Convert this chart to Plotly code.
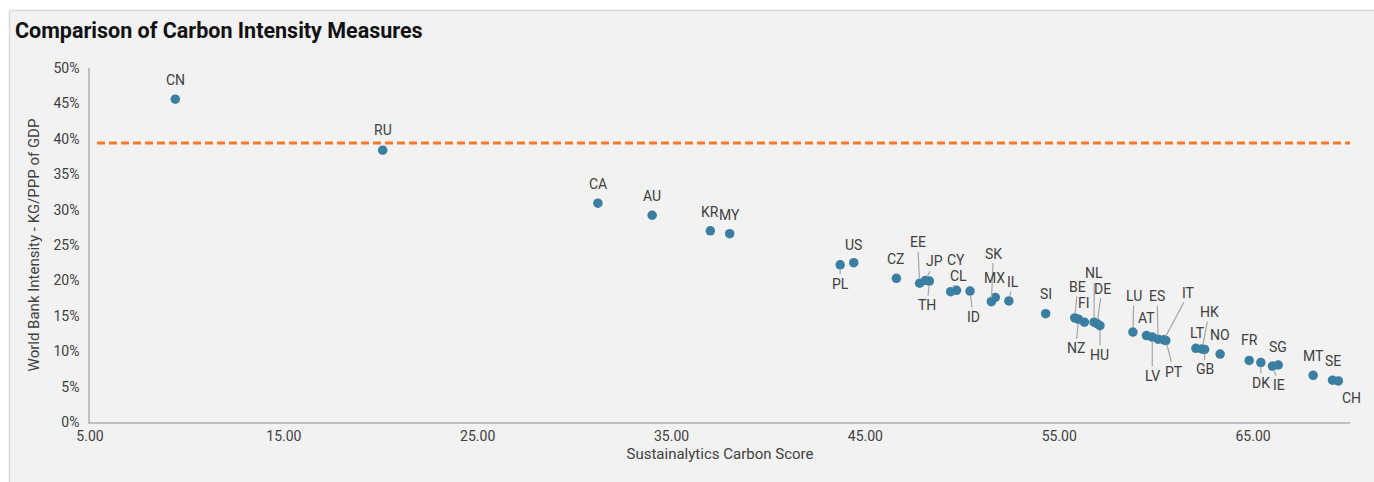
import plotly.graph_objects as go

# ---- data ----
countries = ["CN", "RU", "CA", "AU", "KR", "MY", "PL", "US", "CZ", "EE", "JP", "TH",
             "CL", "CY", "ID", "SK", "MX", "IL", "SI", "BE", "NZ", "FI", "NL", "DE",
             "HU", "LU", "AT", "LV", "ES", "IT", "PT", "LT", "HK", "GB", "NO", "FR",
             "DK", "IE", "SG", "MT", "SE", "CH"]
carbon_score = [9.4, 20.1, 31.2, 34.0, 37.0, 38.0, 43.7, 44.4, 46.6, 47.8, 48.1, 48.3,
                49.4, 49.7, 50.4, 51.5, 51.7, 52.4, 54.3, 55.8, 56.0, 56.3, 56.8, 56.95,
                57.1, 58.8, 59.5, 59.8, 60.1, 60.4, 60.5, 62.05, 62.37, 62.5, 63.3, 64.8,
                65.4, 66.0, 66.3, 68.1, 69.1, 69.4]
wb_intensity_pct = [45.6, 38.4, 30.9, 29.2, 27.0, 26.6, 22.2, 22.5, 20.3, 19.6, 20.0, 19.9,
                    18.4, 18.6, 18.5, 17.0, 17.6, 17.1, 15.3, 14.7, 14.5, 14.1, 14.1, 13.9,
                    13.6, 12.7, 12.2, 12.0, 11.7, 11.6, 11.5, 10.4, 10.3, 10.25, 9.6, 8.7,
                    8.4, 7.9, 8.05, 6.6, 5.9, 5.8]
threshold_pct = 39.4
threshold_x = [5.36, 70.1]
x_ticks = [5, 15, 25, 35, 45, 55, 65]

# ---- label placement (screen pixel offsets of label centre from point) ----
label_offset = {
    "CN": (0, -19), "RU": (0, -20), "CA": (0, -19), "AU": (0, -19), "KR": (0, -19),
    "MY": (0, -19), "PL": (0, 19), "US": (0, -18), "CZ": (0, -19), "EE": (-2, -41),
    "JP": (9, -19), "TH": (-2, 24), "CL": (8, -16), "CY": (0, -30), "ID": (3, 26),
    "SK": (2, -48), "MX": (-1, -19), "IL": (4, -19), "SI": (0, -20), "BE": (3, -31),
    "NZ": (-3, 29), "FI": (0, -19), "NL": (0, -49), "DE": (5, -35), "HU": (0, 29),
    "LU": (1, -36), "AT": (0, -18), "LV": (0, 39), "ES": (-1, -43), "IT": (25, -47),
    "PT": (8, 31), "LT": (2, -15), "HK": (7, -37), "GB": (0, 20), "NO": (0, -19),
    "FR": (0, -20), "DK": (0, 20), "IE": (7, 19), "SG": (0, -18), "MT": (0, -19),
    "SE": (0, -19), "CH": (13, 17),
}
with_leader = {"PL", "EE", "JP", "TH", "CL", "ID", "SK", "IL", "BE", "NZ", "NL", "DE",
               "HU", "LU", "LV", "ES", "IT", "PT", "HK", "GB", "DK", "IE"}

FONT = "Roboto, Arial, sans-serif"
wb_intensity = [v / 100 for v in wb_intensity_pct]

fig = go.Figure()
fig.add_trace(go.Scatter(
    x=threshold_x, y=[threshold_pct / 100] * 2, mode="lines",
    line=dict(color="#f47a2a", width=3, dash="8px,4px"),
    hoverinfo="skip", showlegend=False, cliponaxis=False))
fig.add_trace(go.Scatter(
    x=carbon_score, y=wb_intensity, mode="markers", text=countries,
    marker=dict(size=9.5, color="#3a7ea1"), showlegend=False, cliponaxis=False))

annotations = []
for c, xv, yv in zip(countries, carbon_score, wb_intensity):
    dx, dy = label_offset[c]
    if c in with_leader:
        annotations.append(dict(
            x=xv, y=yv, text=c, showarrow=True, ax=dx, ay=dy,
            arrowhead=0, arrowwidth=1.2, arrowcolor="#a6a6a6", standoff=4,
            font=dict(family=FONT, size=14, color="#404040")))
    else:
        annotations.append(dict(
            x=xv, y=yv, text=c, showarrow=False, xshift=dx, yshift=-dy,
            font=dict(family=FONT, size=14, color="#404040")))

# body margin is removed by post_script, figure sits at (0, 0)
W, H = 1374, 482
L, R, T, B = 90, 24, 68, 60
pw, ph = W - L - R, H - T - B


def px_to_paper_x(px):
    return (px - L) / pw


def px_to_paper_y(py):
    return (H - B - py) / ph


bx0, bx1 = px_to_paper_x(9.5), px_to_paper_x(1400)
by0, by1 = px_to_paper_y(520), px_to_paper_y(10.5)
frame = [
    dict(type="rect", xref="paper", yref="paper", layer="below",
         x0=bx0, x1=bx1, y0=by0, y1=by1,
         fillcolor="#f2f2f2", line=dict(width=0)),
    dict(type="line", xref="paper", yref="paper", layer="below",
         x0=bx0, x1=bx1, y0=by1, y1=by1, line=dict(color="#d9d9d9", width=1.5)),
    dict(type="line", xref="paper", yref="paper", layer="below",
         x0=bx0, x1=bx0, y0=by0, y1=by1, line=dict(color="#d9d9d9", width=1.5)),
]

fig.update_layout(
    width=W, height=H,
    margin=dict(l=L, r=R, t=T, b=B),
    paper_bgcolor="white", plot_bgcolor="rgba(0,0,0,0)",
    font=dict(family=FONT, color="#595959"),
    title=dict(text="<b>Comparison of Carbon Intensity Measures</b>",
               x=15 / W, xanchor="left", xref="container",
               y=1 - 30 / H, yanchor="middle", yref="container",
               font=dict(family=FONT, size=21.5, color="#111111")),
    shapes=frame,
    annotations=annotations,
    xaxis=dict(range=[5, 70], tickvals=x_ticks, tickformat=".2f",
               showgrid=False, zeroline=False, showline=True,
               linecolor="#bfbfbf", linewidth=1.5, ticks="",
               tickfont=dict(size=14, color="#404040"),
               title=dict(text="Sustainalytics Carbon Score", standoff=6,
                          font=dict(size=15, color="#404040"))),
    yaxis=dict(range=[0, 0.5], dtick=0.05, tickformat=".0%",
               showgrid=False, zeroline=False, showline=True,
               linecolor="#bfbfbf", linewidth=1.5, ticks="",
               ticklabelstandoff=6,
               tickfont=dict(size=14, color="#404040"),
               title=dict(text="World Bank Intensity - KG/PPP of GDP", standoff=10,
                          font=dict(size=15, color="#404040"))),
)

fig.write_html(
    "out.html",
    config={"displayModeBar": False},
    post_script="document.body.style.margin='0';document.body.style.overflow='hidden';",
)
